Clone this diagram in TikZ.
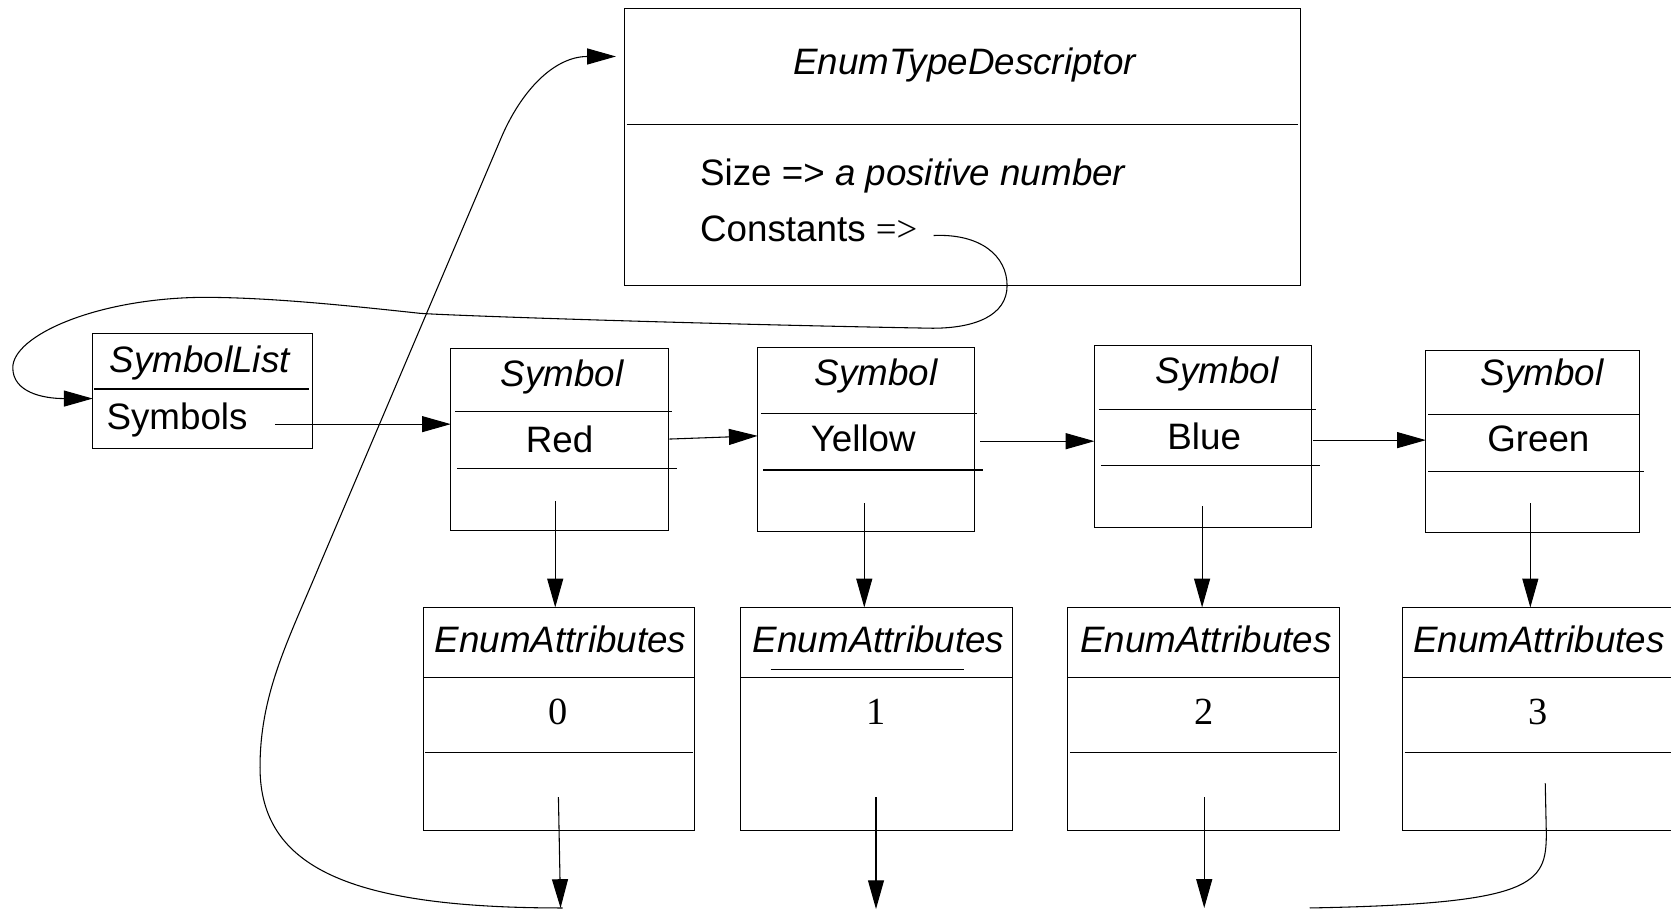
\documentclass[tikz,border=0pt]{standalone}
\usepackage{fontspec}
\setmainfont{Liberation Sans}
\newfontfamily\serifnum{Liberation Serif}
\usetikzlibrary{arrows.meta}
\begin{document}
\begin{tikzpicture}[x=1pt,y=-1pt,
  box/.style={draw, line width=1pt, inner sep=0pt, outer sep=0pt},
  txt/.style={inner sep=0pt, outer sep=0pt, anchor=base, font=\fontsize{34.5}{40}\selectfont},
  itxt/.style={inner sep=0pt, outer sep=0pt, anchor=base, font=\fontsize{34.5}{40}\selectfont\itshape},
  num/.style={inner sep=0pt, outer sep=0pt, anchor=base, font=\fontsize{36}{40}\selectfont\serifnum},
  arr/.style={line width=1pt, -{Triangle[length=27pt,width=15pt]}},
  ln/.style={line width=1pt},
]
\useasboundingbox (0,0) rectangle (1568,853);
\clip (0,0) rectangle (1568,853);

% EnumTypeDescriptor
\node[box, minimum width=634pt, minimum height=260pt] (etd) at (903,138) {};
\draw[ln] (588,117) -- (1218,117);
\node[itxt] (etdT) at (905,70) {EnumTypeDescriptor};
\node[txt, anchor=base west] (size) at (657,174) {Size => {\itshape a positive number}};
\node[txt, anchor=base west] (const) at (657,227) {Constants {\serifnum =>}};

% SymbolList
\node[box, minimum width=206pt, minimum height=108pt] (sl) at (190,367) {};
\draw[ln] (88,365) -- (290,365);
\node[itxt] (slT) at (187.5,350) {SymbolList};
\node[txt, anchor=base west] (slS) at (100,403) {Symbols};

% Symbol boxes
\node[box, minimum width=204pt, minimum height=171pt] (s1) at (525,412.5) {};
\draw[ln] (427,386) -- (631,386);
\draw[ln] (429,440) -- (635,440);
\node[itxt] (s1T) at (527.5,363) {Symbol};
\node[txt] (s1V) at (525,425) {Red};

\node[box, minimum width=203pt, minimum height=173pt] (s2) at (812.5,412.5) {};
\draw[ln] (714,388) -- (917,388);
\draw[ln] (716,441) -- (922,441);
\node[itxt] (s2T) at (822,362) {Symbol};
\node[txt] (s2V) at (810,424) {Yellow};

\node[box, minimum width=204pt, minimum height=171pt] (s3) at (1129,409.5) {};
\draw[ln] (1031,384) -- (1235,384);
\draw[ln] (1033,437) -- (1239,437);
\node[itxt] (s3T) at (1142,360) {Symbol};
\node[txt] (s3V) at (1130,422) {Blue};

\node[box, minimum width=200pt, minimum height=171pt] (s4) at (1438,414.5) {};
\draw[ln] (1340,389) -- (1538,389);
\draw[ln] (1340,442) -- (1543,442);
\node[itxt] (s4T) at (1447,362) {Symbol};
\node[txt] (s4V) at (1443.5,424) {Green};

% EnumAttributes boxes
\node[box, minimum width=255pt, minimum height=209pt] (e1) at (524.5,674.5) {};
\draw[ln] (397,636) -- (652,636);
\draw[ln] (399,706) -- (650,706);
\node[itxt] (e1T) at (526,612) {EnumAttributes};
\node[num] (e1V) at (524,680) {0};

\node[box, minimum width=255pt, minimum height=209pt] (e2) at (822.5,674.5) {};
\draw[ln] (695,636) -- (950,636);
\draw[ln] (723,628) -- (905,628);
\node[itxt] (e2T) at (824.5,612) {EnumAttributes};
\node[num] (e2V) at (822,680) {1};

\node[box, minimum width=255pt, minimum height=209pt] (e3) at (1129.5,674.5) {};
\draw[ln] (1002,636) -- (1257,636);
\draw[ln] (1004,706) -- (1255,706);
\node[itxt] (e3T) at (1131.5,612) {EnumAttributes};
\node[num] (e3V) at (1130,680) {2};

\node[box, minimum width=255pt, minimum height=209pt] (e4) at (1443.5,674.5) {};
\draw[ln] (1316,636) -- (1571,636);
\draw[ln] (1318,706) -- (1571,706);
\node[itxt] (e4T) at (1444,612) {EnumAttributes};
\node[num] (e4V) at (1443,680) {3};

% horizontal arrows
\coordinate (c1) at (258,398);
\draw[arr] (c1) -- (c1 -| s1.west);
\coordinate (c2) at (628,412);
\draw[arr] (c2) -- ([yshift=3.5pt]s2.west);
\coordinate (c3) at (920,414);
\draw[arr] (c3) -- (c3 -| s3.west);
\coordinate (c4) at (1232,413);
\draw[arr] (c4) -- (c4 -| s4.west);

% down arrows
\coordinate (d1) at (521,470);
\draw[arr] (d1) -- (d1 |- e1.north);
\coordinate (d2) at (811,472);
\draw[arr] (d2) -- (d2 |- e2.north);
\coordinate (d3) at (1128,475);
\draw[arr] (d3) -- (d3 |- e3.north);
\coordinate (d4) at (1436,472);
\draw[arr] (d4) -- (d4 |- e4.north);

% bottom arrows
\coordinate (b1) at (524,748);
\coordinate (t1) at (526,852);
\draw[arr] (b1) -- (t1);
\coordinate (b2) at (822,748);
\coordinate (t2) at (822,853);
\draw[arr] (b2) -- (t2);
\coordinate (b3) at (1130,748);
\coordinate (t3) at (1130,852);
\draw[arr] (b3) -- (t3);
\coordinate (b4) at (1450,735);
\coordinate (t4) at (1229,852);
\draw[ln] (b4) -- (1451,782) .. controls (1451,830) and (1440,848) .. (t4);

% big curve back to EnumTypeDescriptor
\coordinate (bigS) at (528,852);
\coordinate (bigE) at (578,53);
\draw[arr] (bigS) .. controls (330,852) and (244,815) .. (244,720)
  .. controls (244,650) and (271,600) .. (300,530)
  -- (470,130)
  .. controls (489,85) and (520,53) .. (bigE);

% Constants curve to SymbolList
\coordinate (cs) at (876,221);
\coordinate (ce) at (87,374);
\draw[arr] (cs) .. controls (920,219) and (945,240) .. (945,268)
  .. controls (945,296) and (915,308) .. (875,308)
  .. controls (650,304) and (420,296) .. (394,294)
  .. controls (320,286) and (250,279) .. (190,279)
  .. controls (90,280) and (12,315) .. (12,345)
  .. controls (12,368) and (40,374) .. (ce);
\end{tikzpicture}
\end{document}
